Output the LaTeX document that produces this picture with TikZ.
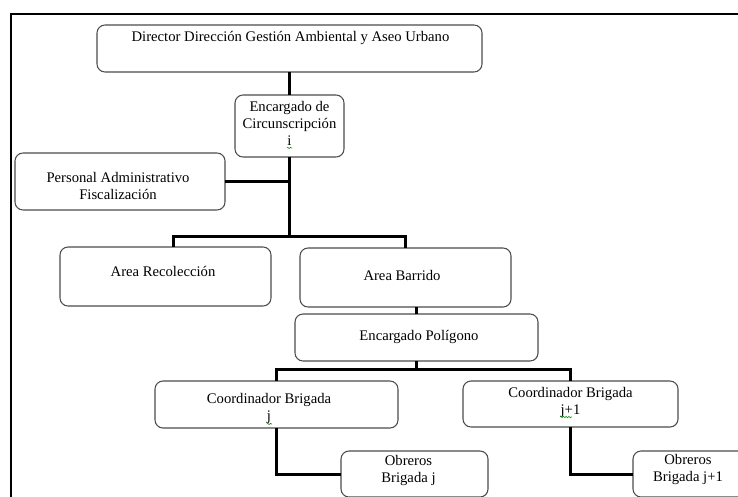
\documentclass[tikz,border=0pt]{standalone}
\usepackage{fontspec}
\setmainfont{Liberation Serif}
\usetikzlibrary{decorations.pathmorphing}
\begin{document}
\begin{tikzpicture}[x=0.75pt,y=-0.75pt,
  box/.style={draw=black!70, line width=0.8pt, rounded corners=6pt, fill=white,
    inner sep=0pt, outer sep=0pt},
  txt/.style={font=\fontsize{11}{12.75}\selectfont, align=center, inner sep=0pt},
  conn/.style={line width=2.25pt, black},
  frame/.style={line width=1.9pt, black},
  squig/.style={draw=green!55!black, line width=0.4pt,
    decorate, decoration={snake, amplitude=0.5pt, segment length=2pt}}]
\useasboundingbox (0,0) rectangle (738,496);
\clip (0,0) rectangle (738,496);
\draw[frame] (11,14) rectangle (760,520);

\node[box, minimum width=385*0.75pt, minimum height=47*0.75pt,
  label={[txt, shift={(1,-10.5)}]center:Director Dirección Gestión Ambiental y Aseo Urbano}]
  (dir) at (289.5,48.5) {};
\node[box, minimum width=109*0.75pt, minimum height=62*0.75pt,
  label={[txt, shift={(0,-3)}]center:Encargado de\\Circunscripción\\i}]
  (enc) at (289.5,126) {};
\node[box, minimum width=210*0.75pt, minimum height=57*0.75pt,
  label={[txt, shift={(-2,4)}]center:Personal Administrativo\\Fiscalización}]
  (pers) at (120,181.5) {};
\node[box, minimum width=211*0.75pt, minimum height=59*0.75pt,
  label={[txt, shift={(-2.5,-5.5)}]center:Area Recolección}]
  (arec) at (165.5,276.5) {};
\node[box, minimum width=211*0.75pt, minimum height=59*0.75pt,
  label={[txt, shift={(-3.5,-2.5)}]center:Area Barrido}]
  (abar) at (405.5,277.5) {};
\node[box, minimum width=243*0.75pt, minimum height=47*0.75pt,
  label={[txt, shift={(2.5,-0.5)}]center:Encargado Polígono}]
  (pol) at (416.5,337.5) {};
\node[box, minimum width=243*0.75pt, minimum height=47*0.75pt,
  label={[txt, shift={(-7.5,4)}]center:Coordinador Brigada\\j}]
  (cj) at (276.5,404.5) {};
\node[box, minimum width=215*0.75pt, minimum height=46*0.75pt,
  label={[txt, shift={(0,-2)}]center:Coordinador Brigada\\j+1}]
  (cj1) at (570.5,404) {};
\node[box, minimum width=147*0.75pt, minimum height=46*0.75pt,
  label={[txt, shift={(-6,-4)}]center:Obreros\\Brigada j}]
  (obj) at (414.5,474) {};
\node[box, minimum width=147*0.75pt, minimum height=46*0.75pt,
  label={[txt, shift={(-18.5,-5)}]center:Obreros\\Brigada j+1}]
  (obj1) at (706.5,474) {};

\coordinate (hub) at (289.5,236);
\coordinate (hub2) at (416.5,369);

\draw[conn] (dir.south) -- (enc.north);
\draw[conn] (enc.south) -- (hub);
\draw[conn] (pers.east) -- (pers.east -| enc.south);
\draw[conn] ([xshift=7.5*0.75pt]arec.north) |- (hub) -| (abar.north);
\draw[conn] (pol.north) -- (pol.north |- abar.south);
\draw[conn] (pol.south) -- (hub2);
\draw[conn] (cj.north) |- (hub2) -| (cj1.north);
\draw[conn] (cj.south) |- (obj.west);
\draw[conn] (cj1.south) |- (obj1.west);

\draw[squig] (287,148) -- (292,148);
\draw[squig] (267,424) -- (272,424);
\draw[squig] (560,417) -- (572,417);
\end{tikzpicture}
\end{document}
